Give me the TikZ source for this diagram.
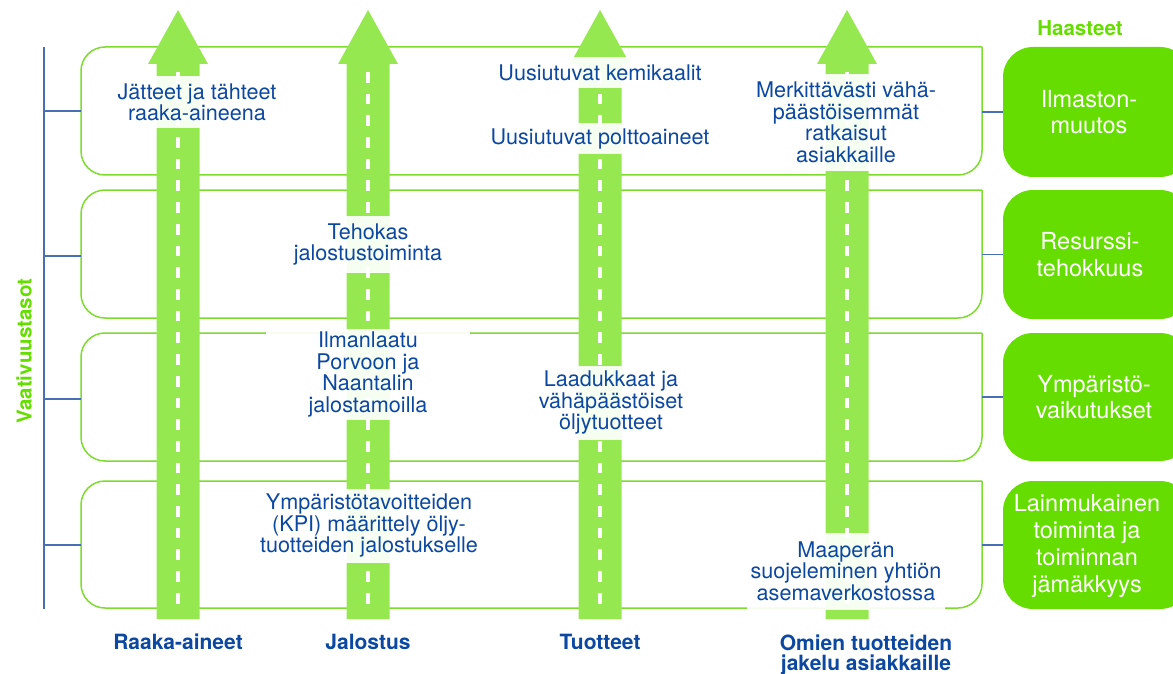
\documentclass[tikz,border=0pt]{standalone}
\usepackage{fontspec}
\setmainfont{TeX Gyre Heros}
\definecolor{arrowgreen}{RGB}{150,232,80}
\definecolor{boxgreen}{RGB}{102,221,0}
\definecolor{rowgreen}{RGB}{125,220,45}
\definecolor{textblue}{RGB}{12,72,160}
\definecolor{axisblue}{RGB}{72,110,180}
\tikzset{
  rowbox/.style={draw=rowgreen, line width=1.5pt, rounded corners=24pt, line cap=square},
  tickline/.style={draw=axisblue, line width=1.3pt},
  road/.style={fill=arrowgreen},
  lane/.style={draw=white, line width=3.3pt, dash pattern=on 10.7pt off 11pt},
  lab/.style={font=\fontsize{21.6}{21.5}\selectfont, text=textblue, align=center,
    fill=white, fill opacity=0.92, text opacity=1, inner xsep=4pt, inner ysep=3pt},
  hd/.style={font=\bfseries\fontsize{21}{20}\selectfont, text=textblue, align=center},
  chalbg/.style={fill=boxgreen, rounded corners=30pt},
  chal/.style={text=white, font=\fontsize{23.5}{26.7}\selectfont, align=center, inner sep=0pt},
  ttl/.style={font=\bfseries\fontsize{20.5}{20}\selectfont, text=boxgreen}
}
\begin{document}
\begin{tikzpicture}[x=1pt,y=-1pt]
\useasboundingbox (0,0) rectangle (1173,674);
\clip (0,0) rectangle (1173,674);

% vertical axis
\coordinate (axT) at (44,47);
\coordinate (axB) at (44,609);
\draw[tickline] (axT) -- (axB);

% rows
\draw[rowbox] (982,47) -- (81,47) -- (81,175) -- (982,175) -- (982,47);
\draw[rowbox] (982,190) -- (81,190) -- (81,318) -- (982,318) -- (982,190);
\draw[rowbox] (982,333) -- (81,333) -- (81,461) -- (982,461) -- (982,333);
\draw[rowbox] (982,481) -- (81,481) -- (81,608) -- (982,608) -- (982,481);

% challenge boxes
\fill[chalbg] (1003,47) rectangle (1190,177);
\fill[chalbg] (1003,190) rectangle (1190,319);
\fill[chalbg] (1003,333) rectangle (1190,461);
\fill[chalbg] (1003,481) rectangle (1190,609);
\coordinate (c1w) at (1003,112);
\coordinate (c2w) at (1003,254.5);
\coordinate (c3w) at (1003,397);
\coordinate (c4w) at (1003,545);
\node[chal] (c1) at (1089,112) {Ilmaston-\\muutos};
\node[chal] (c2) at (1090,254.5) {Resurssi-\\tehokkuus};
\node[chal] (c3) at (1094,397) {Ympäristö-\\vaikutukset};
\node[chal] (c4) at (1087,546) {Lainmukainen\\toiminta ja\\toiminnan\\jämäkkyys};

% ticks
\coordinate (a1) at (44,111);  \coordinate (r1w) at (81,111);  \coordinate (r1e) at (982,112);
\coordinate (a2) at (44,256);  \coordinate (r2w) at (81,256);  \coordinate (r2e) at (982,254.5);
\coordinate (a3) at (44,399);  \coordinate (r3w) at (81,399);  \coordinate (r3e) at (982,397);
\coordinate (a4) at (44,545);  \coordinate (r4w) at (81,545);  \coordinate (r4e) at (982,545);
\draw[tickline] (a1) -- (r1w);  \draw[tickline] (r1e) -- (c1w);
\draw[tickline] (a2) -- (r2w);  \draw[tickline] (r2e) -- (c2w);
\draw[tickline] (a3) -- (r3w);  \draw[tickline] (r3e) -- (c3w);
\draw[tickline] (a4) -- (r4w);  \draw[tickline] (r4e) -- (c4w);

% road arrows
\foreach \c in {178,368,600,847}{
  \fill[road] (\c-21.5,619) -- (\c-21.5,64) -- (\c-30,64) -- (\c,10) -- (\c+30,64)
     -- (\c+21.5,64) -- (\c+21.5,619) -- cycle;
  \draw[lane] (\c,72) -- (\c,612);
}

% labels
\node[lab, minimum height=52pt] (l1) at (197,102.5) {Jätteet ja tähteet\\raaka-aineena};
\node[lab, minimum height=31pt] (l2) at (600,72.5) {Uusiutuvat kemikaalit};
\node[lab, minimum height=31pt] (l3) at (600,139) {Uusiutuvat polttoaineet};
\node[lab, minimum height=97pt] (l4) at (846,122.5) {Merkittävästi vähä-\\päästöisemmät\\ratkaisut\\asiakkaille};
\node[lab, minimum height=57pt] (l5) at (368,244.5) {Tehokas\\jalostustoiminta};
\node[lab, minimum height=85pt, minimum width=204pt] (l6) at (368,374.5) {Ilmanlaatu\\Porvoon ja\\Naantalin\\jalostamoilla};
\node[lab, minimum height=74pt] (l7) at (611,402.5) {Laadukkaat ja\\vähäpäästöiset\\öljytuotteet};
\node[lab, minimum height=74pt] (l8) at (369,525.5) {Ympäristötavoitteiden\\(KPI) määrittely öljy-\\tuotteiden jalostukselle};
\node[lab, minimum height=77pt] (l9) at (846,571) {Maaperän\\suojeleminen yhtiön\\asemaverkostossa};

% column headings
\node[hd, anchor=base] (b1) at (178,649) {Raaka-aineet};
\node[hd, anchor=base] (b2) at (368,649) {Jalostus};
\node[hd, anchor=base] (b3) at (600,649) {Tuotteet};
\node[hd, anchor=north, inner sep=0pt] (b4) at (866,635) {Omien tuotteiden\\jakelu asiakkaille};

% titles
\node[ttl, anchor=base] (ha) at (1080,36) {Haasteet};
\node[ttl, rotate=90] (va) at (24,351) {Vaativuustasot};
\end{tikzpicture}
\end{document}
